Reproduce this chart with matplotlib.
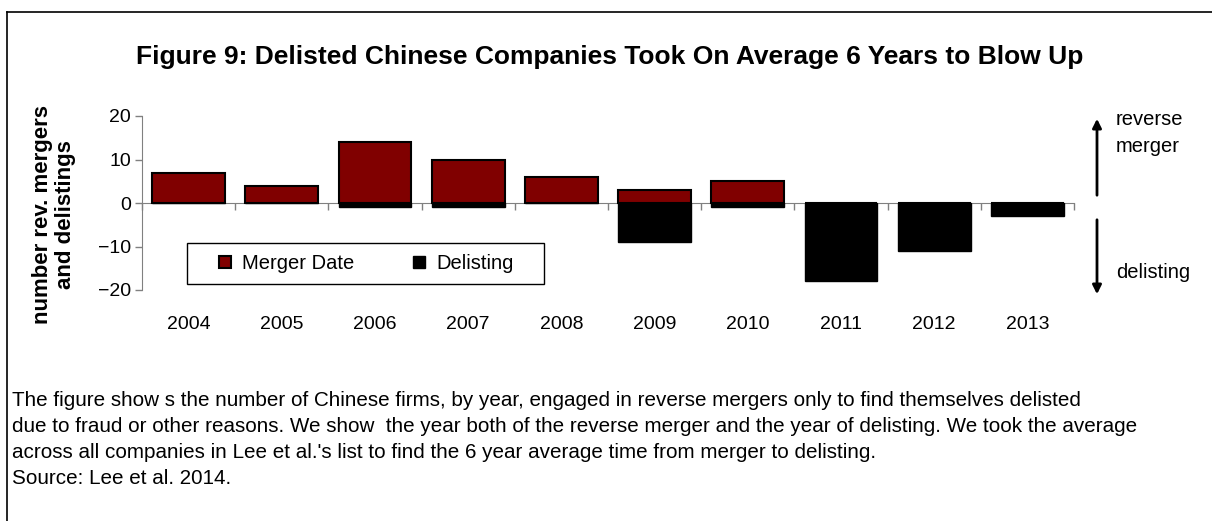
import matplotlib
matplotlib.use("Agg")
import matplotlib.pyplot as plt
from matplotlib.lines import Line2D
from matplotlib.patches import FancyArrowPatch, Rectangle
import numpy as np

plt.rcParams['font.family'] = ['Liberation Sans', 'DejaVu Sans']

years = ['2004', '2005', '2006', '2007', '2008', '2009', '2010', '2011', '2012', '2013']
merger_date = [7, 4, 14, 10, 6, 3, 5, 0, 0, 0]
delisting = [0, 0, -1, -1, 0, -9, -1, -18, -11, -3]

title = "Figure 9: Delisted Chinese Companies Took On Average 6 Years to Blow Up"
ylabel = "number rev. mergers\nand delistings"
caption = [
    "The figure show s the number of Chinese firms, by year, engaged in reverse mergers only to find themselves delisted",
    "due to fraud or other reasons. We show  the year both of the reverse merger and the year of delisting. We took the average",
    "across all companies in Lee et al.'s list to find the 6 year average time from merger to delisting.",
    "Source: Lee et al. 2014.",
]

W, H = 1212, 521
fig = plt.figure(figsize=(W / 100, H / 100), dpi=100)

# outer frame (left + top)
fig.add_artist(Line2D([7 / W, 7 / W], [0, 1 - 12 / H], transform=fig.transFigure, color='black', lw=1.2))
fig.add_artist(Line2D([7 / W, 1], [1 - 12 / H, 1 - 12 / H], transform=fig.transFigure, color='black', lw=1.2))

ax = fig.add_axes([142 / W, 1 - 290 / H, (1074 - 142) / W, (290 - 116) / H])
x = np.arange(len(years))
ax.bar(x, merger_date, width=0.78, color='#800000', edgecolor='black', linewidth=1.5, label='Merger Date', zorder=2)
ax.bar(x, delisting, width=0.78, color='black', edgecolor='black', linewidth=1.0, label='Delisting', zorder=3)

ax.set_xlim(-0.5, len(years) - 0.5)
ax.set_ylim(-20, 20)
ax.set_yticks([-20, -10, 0, 10, 20])
ax.tick_params(axis='y', direction='out', length=5, width=1, color='#808080', labelsize=14, pad=3)

for s in ['top', 'right']:
    ax.spines[s].set_visible(False)
ax.spines['left'].set_color('#808080')
ax.spines['bottom'].set_position(('data', 0))
ax.spines['bottom'].set_color('#808080')
ax.spines['bottom'].set_zorder(1)

ax.set_xticks(x)
ax.set_xticklabels([])
ax.tick_params(axis='x', which='major', length=0)
ax.set_xticks(np.arange(len(years) + 1) - 0.5, minor=True)
ax.tick_params(axis='x', which='minor', direction='out', length=5, width=1, color='#808080')

sec = ax.secondary_xaxis(location=0)
sec.set_xticks(x)
sec.set_xticklabels(years)
sec.tick_params(length=0, labelsize=14, pad=19)
sec.spines['bottom'].set_visible(False)

# legend box and entries
box = Rectangle((187 / W, 1 - 284 / H), (544 - 187) / W, (284 - 243) / H,
                transform=fig.transFigure, facecolor='white', edgecolor='black', lw=1.0, zorder=4)
ax.add_artist(box)
leg = ax.legend(loc='center left', bbox_to_anchor=(219 / W, 1 - 263.5 / H), bbox_transform=fig.transFigure,
                ncol=2, frameon=False, fontsize=14.5,
                handlelength=0.6, handleheight=0.6, columnspacing=2.9, borderpad=0,
                borderaxespad=0, handletextpad=0.55)
leg.set_zorder(6)
ax.set_xlim(-0.5, len(years) - 0.5)
ax.set_ylim(-20, 20)

fig.text(610 / W, 1 - 57 / H, title, ha='center', va='center', fontsize=19, fontweight='bold')
fig.text(54 / W, 1 - 215 / H, ylabel, ha='center', va='center', rotation=90, fontsize=16,
         fontweight='bold', multialignment='center', linespacing=1.15)

# right-hand arrows
fig.add_artist(FancyArrowPatch((1097 / W, 1 - 198 / H), (1097 / W, 1 - 116 / H),
               transform=fig.transFigure, arrowstyle='-|>', mutation_scale=13, color='black', lw=2))
fig.add_artist(FancyArrowPatch((1097 / W, 1 - 217 / H), (1097 / W, 1 - 297 / H),
               transform=fig.transFigure, arrowstyle='-|>', mutation_scale=13, color='black', lw=2))
fig.text(1116 / W, 1 - 133 / H, "reverse\nmerger", ha='left', va='center', fontsize=14.5, linespacing=1.5)
fig.text(1116 / W, 1 - 272 / H, "delisting", ha='left', va='center', fontsize=14.5)

for i, line in enumerate(caption):
    fig.text(12 / W, 1 - (400 + 26 * i) / H, line, ha='left', va='center', fontsize=14.85)

fig.savefig('out.png', dpi=100)
